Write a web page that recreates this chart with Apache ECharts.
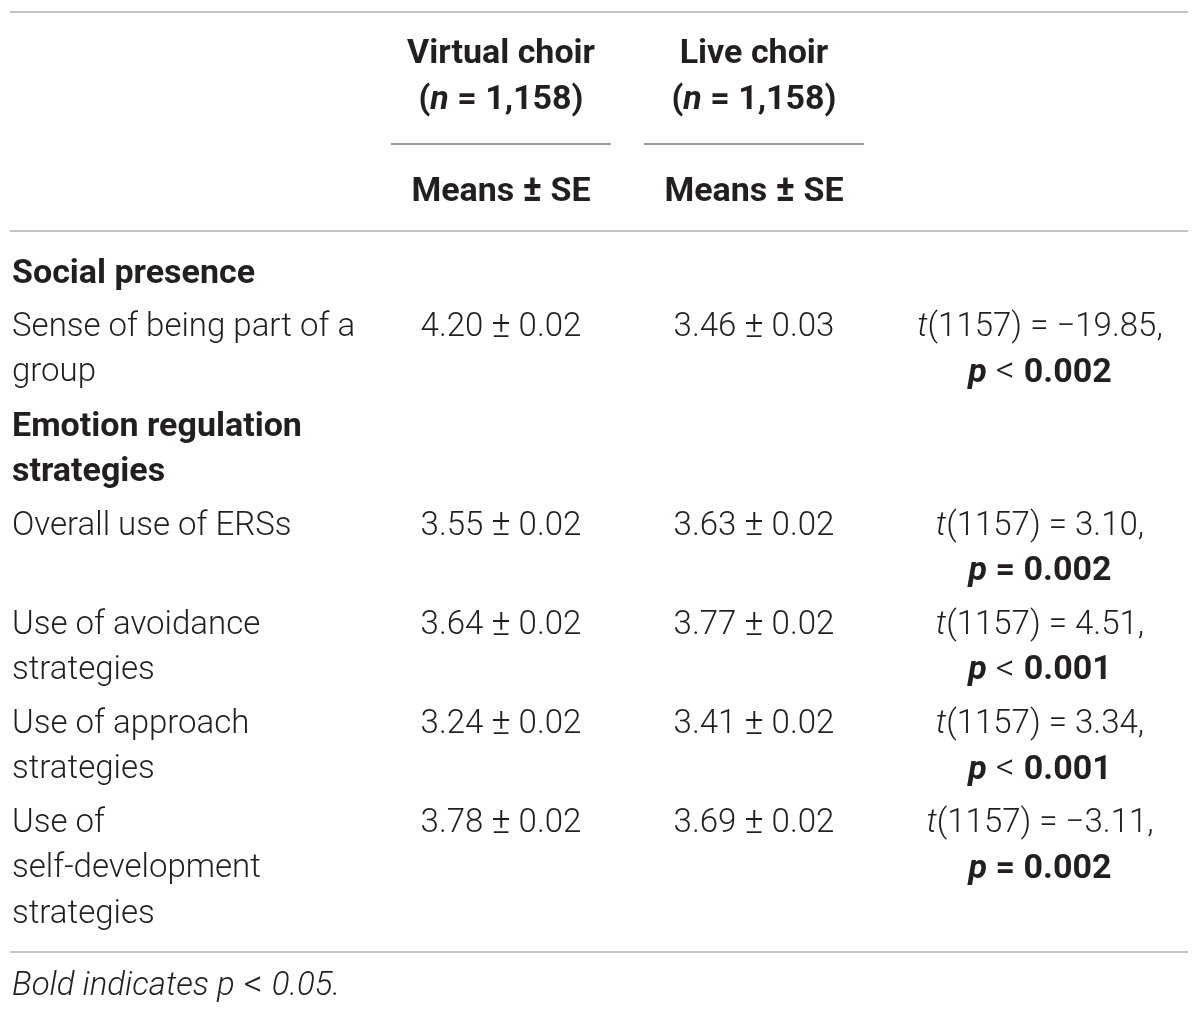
<!DOCTYPE html>
<html lang="en">
<head>
  <meta charset="UTF-8">
  <title>Virtual vs live choir</title>
  <style>
      html, body {
          margin: 0;
          padding: 0;
          background: #fff;
      }
      #chart {
          width: 1200px;
          height: 1015px;
      }
  </style>
</head>
<body>
<div id="chart"></div>

<script src="https://cdn.jsdelivr.net/npm/echarts@6/dist/echarts.min.js"></script>
<script>

  // 数据
  const groupNames = ['Virtual choir', 'Live choir'];
  const groupN = ['1,158', '1,158'];
  const statHeader = ['Means', 'SE'];
  const sectionNames = ['Social presence', 'Emotion regulation\nstrategies'];
  const rowLabels = [
    'Sense of being part of a\ngroup',
    'Overall use of ERSs',
    'Use of avoidance\nstrategies',
    'Use of approach\nstrategies',
    'Use of\nself-development\nstrategies'
  ];
  const rowSection = [0, 1, 1, 1, 1];
  const virtualMeans = [4.20, 3.55, 3.64, 3.24, 3.78];
  const virtualSE = [0.02, 0.02, 0.02, 0.02, 0.02];
  const liveMeans = [3.46, 3.63, 3.77, 3.41, 3.69];
  const liveSE = [0.03, 0.02, 0.02, 0.02, 0.02];
  const tDf = 1157;
  const tValues = [-19.85, 3.10, 4.51, 3.34, -3.11];
  const pOps = ['<', '=', '<', '<', '='];
  const pValues = [0.002, 0.002, 0.001, 0.001, 0.002];
  const footnote = ['Bold indicates', 'p', '<', '0.05.'];

  // 版式
  const FONT = 'Roboto, "Liberation Sans", Arial, sans-serif';
  const SIZE = 33;
  const BSIZE = 34;
  const INK = '#231f20';
  const colX = {label: 12, virtual: 501, live: 754, stat: 1040};
  const lineH = 45.3;
  const rowGap = 8.6;
  const bodyTop = 274;
  const headY = [54, 100, 144, 192];

  function st(size, weight, italic) {
    return {fontFamily: FONT, fontSize: size, fontWeight: weight, fontStyle: italic ? 'italic' : 'normal', color: INK};
  }
  const rich = {
    r: st(SIZE, 300),
    op: st(SIZE + 3, 300),
    lt: st(SIZE + 4, 300),
    i: st(SIZE, 300, true),
    b: st(BSIZE, 'bold'),
    bop: st(BSIZE + 2, 'bold'),
    bi: st(BSIZE, 'bold', true)
  };

  function fmt(v, d) {
    return (v < 0 ? '\u2212' : '') + Math.abs(v).toFixed(d);
  }

  // 每一行文字: [x, y, text, align]
  const cells = [];
  const rules = [];   // [x1, x2, y, color, width]

  // 表头
  rules.push([10, 1188, 12, '#c4c4c4', 2]);
  [colX.virtual, colX.live].forEach(function (x, g) {
    cells.push([x, headY[0], '{b|' + groupNames[g] + '}', 'center']);
    cells.push([x, headY[1], '{b|(}{bi|n}{b| = ' + groupN[g] + ')}', 'center']);
    rules.push([x - 110, x + 110, headY[2], '#7a7a7a', 1.5]);
    cells.push([x, headY[3], '{b|' + statHeader[0] + ' }{bop|±}{b| ' + statHeader[1] + '}', 'center']);
  });
  rules.push([10, 1188, 231, '#c4c4c4', 2]);

  // 表体
  let y = bodyTop;
  let lastSection = -1;
  rowLabels.forEach(function (label, i) {
    if (rowSection[i] !== lastSection) {
      lastSection = rowSection[i];
      const sl = sectionNames[lastSection].split('\n');
      sl.forEach(function (t, k) {
        cells.push([colX.label, y + k * lineH, '{b|' + t + '}', 'left']);
      });
      y += sl.length * lineH + rowGap;
    }
    const ll = label.split('\n');
    ll.forEach(function (t, k) {
      cells.push([colX.label, y + k * lineH, '{r|' + t + '}', 'left']);
    });
    cells.push([colX.virtual, y, '{r|' + fmt(virtualMeans[i], 2) + ' }{op|±}{r| ' + fmt(virtualSE[i], 2) + '}', 'center']);
    cells.push([colX.live, y, '{r|' + fmt(liveMeans[i], 2) + ' }{op|±}{r| ' + fmt(liveSE[i], 2) + '}', 'center']);
    cells.push([colX.stat, y, '{i|t}{r|(' + tDf + ') = ' + fmt(tValues[i], 2) + ',}', 'center']);
    const opStyle = pOps[i] === '<' ? 'lt' : 'b';
    cells.push([colX.stat, y + lineH, '{bi|p}{' + opStyle + '| ' + pOps[i] + ' }{b|' + fmt(pValues[i], 3) + '}', 'center']);
    y += Math.max(ll.length, 2) * lineH + rowGap;
  });

  rules.push([10, 1188, 952, '#c4c4c4', 2]);
  cells.push([colX.label, 987, '{i|' + footnote[0] + ' ' + footnote[1] + '}{lt| ' + footnote[2] + ' }{i|' + footnote[3] + '}', 'left']);

  const option = {
    backgroundColor: '#ffffff',
    animation: false,
    grid: {left: 0, right: 0, top: 0, bottom: 0},
    xAxis: {type: 'value', min: 0, max: 1200, show: false},
    yAxis: {type: 'value', min: 0, max: 1015, inverse: true, show: false},
    series: [
      {
        type: 'custom',
        clip: false,
        encode: {x: [0, 1], y: 2},
        data: rules,
        renderItem: function (params, api) {
          const a = api.coord([api.value(0), api.value(2)]);
          const b = api.coord([api.value(1), api.value(2)]);
          const r = rules[params.dataIndex];
          return {
            type: 'line',
            shape: {x1: a[0], y1: a[1], x2: b[0], y2: b[1]},
            style: {stroke: r[3], lineWidth: r[4]}
          };
        }
      },
      {
        type: 'custom',
        clip: false,
        encode: {x: 0, y: 1},
        data: cells.map(function (c) { return [c[0], c[1]]; }),
        renderItem: function (params, api) {
          const c = cells[params.dataIndex];
          const p = api.coord([api.value(0), api.value(1)]);
          return {
            type: 'text',
            x: p[0],
            y: p[1],
            style: {
              text: c[2],
              rich: rich,
              align: c[3],
              verticalAlign: 'middle',
              fontFamily: FONT,
              fontSize: SIZE,
              fill: INK
            }
          };
        }
      }
    ]
  };

  const myChart = echarts.init(document.getElementById('chart'));
  myChart.setOption(option);

</script>
</body>
</html>
